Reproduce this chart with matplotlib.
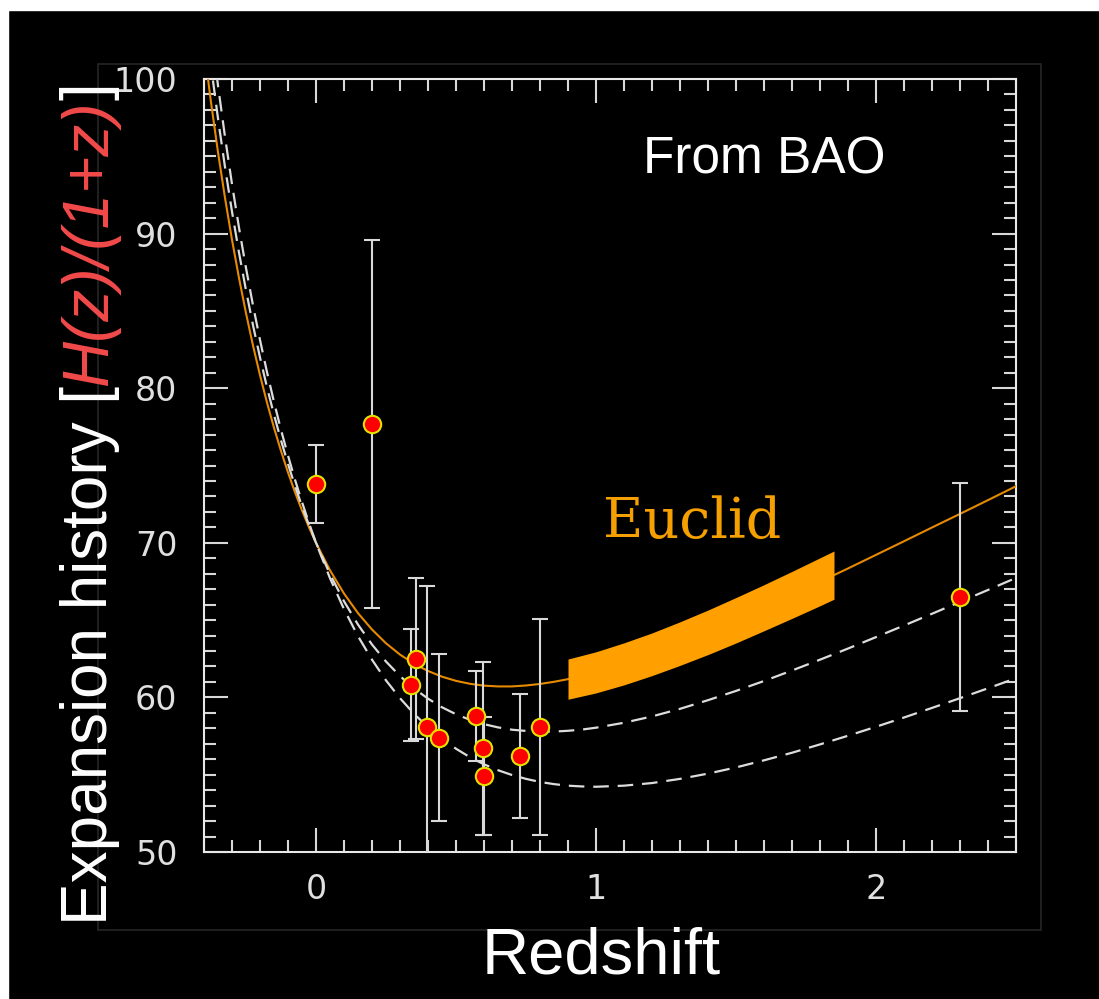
import matplotlib
matplotlib.use('Agg')
import matplotlib.pyplot as plt
from matplotlib.ticker import MultipleLocator
from matplotlib.patches import Rectangle

# ------------------------------------------------------------
# Data
# ------------------------------------------------------------
z_curve = [-0.400, -0.375, -0.350, -0.325, -0.300, -0.275, -0.250, -0.225,
           -0.200, -0.175, -0.150, -0.125, -0.100, -0.075, -0.050, -0.025,
           0.00, 0.05, 0.10, 0.15, 0.20, 0.25, 0.30, 0.35, 0.40, 0.45,
           0.50, 0.55, 0.60, 0.65, 0.70, 0.75, 0.80, 0.85, 0.90, 0.95,
           1.0, 1.1, 1.2, 1.3, 1.4, 1.5, 1.6, 1.7, 1.8, 1.9, 2.0,
           2.1, 2.2, 2.3, 2.4, 2.5]
# solid orange curve
h_orange = [102.03, 98.49, 95.26, 92.31, 89.60, 87.13, 84.85, 82.76,
            80.84, 79.07, 77.44, 75.94, 74.55, 73.27, 72.09, 71.00,
            70.00, 68.22, 66.72, 65.45, 64.39, 63.50, 62.77, 62.18, 61.71, 61.34,
            61.07, 60.88, 60.76, 60.71, 60.71, 60.77, 60.87, 61.01, 61.18, 61.39,
            61.62, 62.17, 62.79, 63.48, 64.21, 64.99, 65.80, 66.63, 67.48, 68.34, 69.22,
            70.10, 70.99, 71.87, 72.76, 73.66]
# upper dashed curve
h_dash_hi = [104.61, 100.86, 97.44, 94.30, 91.42, 88.77, 86.33, 84.07,
             81.99, 80.06, 78.28, 76.63, 75.10, 73.68, 72.36, 71.14,
             70.00, 67.97, 66.22, 64.71, 63.42, 62.32, 61.38, 60.58, 59.92, 59.36,
             58.91, 58.55, 58.27, 58.06, 57.91, 57.83, 57.79, 57.79, 57.84, 57.92,
             58.04, 58.36, 58.77, 59.26, 59.82, 60.42, 61.06, 61.74, 62.44, 63.16, 63.90,
             64.65, 65.41, 66.18, 66.95, 67.73]
# lower dashed curve
h_dash_lo = [107.13, 103.19, 99.57, 96.26, 93.20, 90.38, 87.77, 85.36,
             83.12, 81.04, 79.11, 77.31, 75.64, 74.08, 72.63, 71.27,
             70.00, 67.71, 65.71, 63.96, 62.44, 61.10, 59.95, 58.94, 58.07, 57.32,
             56.68, 56.13, 55.67, 55.29, 54.98, 54.73, 54.53, 54.39, 54.29, 54.24,
             54.22, 54.29, 54.46, 54.73, 55.07, 55.47, 55.93, 56.42, 56.96, 57.52, 58.10,
             58.70, 59.32, 59.95, 60.59, 61.24]

# Euclid forecast band
z_band = [0.90, 1.00, 1.10, 1.20, 1.30, 1.40, 1.50, 1.60, 1.70, 1.80, 1.85]
band_lo = [59.88, 60.29, 60.81, 61.41, 62.07, 62.77, 63.52, 64.31, 65.11, 65.93, 66.35]
band_hi = [62.48, 62.95, 63.53, 64.17, 64.89, 65.65, 66.46, 67.29, 68.15, 69.03, 69.47]

# BAO measurements
z_pts = [0.00, 0.20, 0.338, 0.357, 0.395, 0.438, 0.57, 0.598, 0.60, 0.73, 0.80, 2.30]
h_pts = [73.8, 77.7, 60.8, 62.5, 58.1, 57.4, 58.8, 56.7, 54.9, 56.2, 58.1, 66.5]
h_err = [2.5, 11.9, 3.6, 5.2, 9.1, 5.4, 2.9, 5.6, 3.8, 4.0, 7.0, 7.4]

x_ticks = [0, 1, 2]
y_ticks = [50, 60, 70, 80, 90, 100]

# ------------------------------------------------------------
# Figure
# ------------------------------------------------------------
W, H = 1099, 999
fig = plt.figure(figsize=(W / 100, H / 100), dpi=100, facecolor='black')

# white strips at top and left, faint inner frame
fig.patches.append(Rectangle((0, 1 - 10 / H), 1, 10 / H, transform=fig.transFigure,
                             color='white', zorder=0))
fig.patches.append(Rectangle((0, 0), 8 / W, 1, transform=fig.transFigure,
                             color='white', zorder=0))
fig.patches.append(Rectangle((98 / W, 1 - 930 / H), (1041 - 98) / W, (930 - 64) / H,
                             transform=fig.transFigure, fill=False,
                             ec='#262626', lw=1.2, zorder=0))

ax = fig.add_axes([204 / W, 1 - 852 / H, (1016 - 204) / W, (852 - 79) / H])
ax.set_facecolor('black')

ax.plot(z_curve, h_orange, color='#e68a00', lw=1.5, zorder=3)
ax.plot(z_curve, h_dash_hi, color='#dcdcdc', lw=1.6, dashes=(7, 4), zorder=3)
ax.plot(z_curve, h_dash_lo, color='#dcdcdc', lw=1.6, dashes=(7, 4), zorder=3)
ax.fill_between(z_band, band_lo, band_hi, color='#ff9f00', lw=0, zorder=4)

ax.errorbar(z_pts, h_pts, yerr=h_err, fmt='none', ecolor='#d9d9d9',
            elinewidth=1.5, capsize=6, capthick=1.5, zorder=5)
ax.plot(z_pts, h_pts, 'o', ls='none', ms=12.5, mfc='#ff0000', mec='#e6e000',
        mew=1.5, zorder=6)

ax.set_xlim(-0.4, 2.5)
ax.set_ylim(50, 100)
ax.set_xticks(x_ticks)
ax.set_yticks(y_ticks)
ax.xaxis.set_minor_locator(MultipleLocator(0.1))
ax.yaxis.set_minor_locator(MultipleLocator(1))
ax.tick_params(which='both', direction='in', top=True, right=True,
               color='#d8d8d8', width=1.5, labelcolor='#e0e0e0', labelsize=24)
ax.tick_params(which='major', length=17.5)
ax.tick_params(which='minor', length=8.5)
ax.tick_params(axis='x', pad=15)
ax.tick_params(axis='y', pad=19)
for sp in ax.spines.values():
    sp.set_color('#e8e8e8')
    sp.set_linewidth(1.5)

ax.text(1.025, 70.3, 'Euclid', color='#f5a000', fontsize=40,
        family='DejaVu Serif', zorder=7)
fig.text(643 / W, 1 - 173 / H, 'From BAO', color='white', fontsize=37,
         family='Liberation Sans', ha='left', va='baseline')
fig.text(601 / W, 1 - 973 / H, 'Redshift', color='white', fontsize=47,
         family='Liberation Sans', ha='center', va='baseline')

# y label built from pieces (white / red italic / white)
renderer = fig.canvas.get_renderer()
ypos = 999 - 925
for txt, col, sty in [('Expansion history [', 'white', 'normal'),
                      ('H(z)/(1+z)', '#f24a4a', 'italic'),
                      (']', 'white', 'normal')]:
    t = fig.text(90 / W, ypos / H, txt, rotation=90, ha='center', va='bottom',
                 color=col, style=sty, fontsize=46, family='Liberation Sans')
    bb = t.get_window_extent(renderer)
    ypos = bb.y1

fig.savefig('out.png', dpi=100, facecolor='black')
